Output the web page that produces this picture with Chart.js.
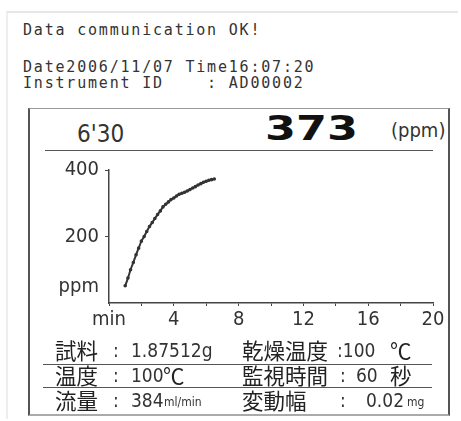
<!DOCTYPE html>
<html>
<head>
<meta charset="utf-8">
<script src="https://cdn.jsdelivr.net/npm/chart.js@4/dist/chart.umd.min.js"></script>
<style>
  body { margin: 0; background: #fff; width: 461px; height: 421px; overflow: hidden; position: relative; color: #222; }
  div, span { position: absolute; white-space: pre; }
  .frame { left: 6px; top: 11px; width: 450px; height: 406px; border-top: 2px solid #e6e6e6; border-left: 2px solid #eee; }
  .mono { left: 23px; font-family: "DejaVu Sans Mono", monospace; font-size: 15px; line-height: 15px; letter-spacing: 1.8px; color: #333; }
  .box { left: 28px; top: 108px; width: 418px; height: 305px; border: 2px solid #555; border-top: 1.5px solid #999; border-bottom: 2px solid #aaa; }
  .hd { font-family: "DejaVu Sans Condensed", sans-serif; color: #333; }
  .hr { height: 0; border-top: 1.5px solid #555; }
  .cjk { font-family: "Noto Sans CJK JP", sans-serif; font-size: 21.5px; line-height: 22px; color: #222; }
  .lat { font-family: "DejaVu Sans Condensed", sans-serif; font-size: 19px; line-height: 22px; color: #333; }
  .sm { font-family: "DejaVu Sans Condensed", sans-serif; font-size: 12px; line-height: 22px; color: #333; }
  #wrap { left: 30px; top: 150px; width: 420px; height: 185px; }
</style>
</head>
<body>
<div class="frame"></div>
<div class="mono" style="top:23px">Data communication OK!</div>
<div class="mono" style="top:60px">Date2006/11/07 Time16:07:20</div>
<div class="mono" style="top:76px">Instrument ID    : AD00002</div>
<div class="box"></div>
<div class="hd" style="left:77px; top:122px; font-size:24px; line-height:24px;">6'30</div>
<div class="hd" style="left:265px; top:111px; font-size:34px; line-height:34px; font-weight:bold; font-family:'DejaVu Sans', sans-serif; color:#111; transform:scaleX(1.31); transform-origin:left top;">373</div>
<div class="hd" style="left:391px; top:120px; font-size:20px; line-height:20px;">(ppm)</div>
<div class="hr" style="left:45px; top:150px; width:388px;"></div>
<div id="wrap"><canvas id="myChart"></canvas></div>

<span class="cjk" style="left:55px; top:339px">試料</span>
<span class="lat" style="left:113px; top:339px">:</span>
<span class="lat" style="left:131px; top:339px">1.87512g</span>
<span class="cjk" style="left:242px; top:339px">乾燥温度</span>
<span class="lat" style="left:337px; top:339px">:100</span>
<span class="cjk" style="left:390px; top:339px">℃</span>
<div class="hr" style="left:43px; top:364px; width:389px;"></div>

<span class="cjk" style="left:55px; top:364px">温度</span>
<span class="lat" style="left:113px; top:364px">:</span>
<span class="lat" style="left:131px; top:364px">100</span>
<span class="cjk" style="left:163px; top:364px">℃</span>
<span class="cjk" style="left:242px; top:364px">監視時間</span>
<span class="lat" style="left:340px; top:364px">:</span>
<span class="lat" style="left:356px; top:364px">60</span>
<span class="cjk" style="left:390px; top:364px">秒</span>
<div class="hr" style="left:43px; top:387px; width:389px;"></div>

<span class="cjk" style="left:55px; top:389px">流量</span>
<span class="lat" style="left:113px; top:389px">:</span>
<span class="lat" style="left:131px; top:389px">384</span>
<span class="sm" style="left:164px; top:391px">ml/min</span>
<span class="cjk" style="left:242px; top:389px">変動幅</span>
<span class="lat" style="left:340px; top:389px">:</span>
<span class="lat" style="left:366px; top:389px">0.02</span>
<span class="sm" style="left:407px; top:391px">mg</span>
<script>
// elapsed time (min) and concentration (ppm)
const minutes = [1.0, 1.17, 1.33, 1.5, 1.67, 1.83, 2.0, 2.17, 2.33, 2.5, 2.67, 2.83, 3.0, 3.17, 3.33, 3.5, 3.67,
    3.83, 4.0, 4.17, 4.33, 4.5, 4.67, 4.83, 5.0, 5.17, 5.33, 5.5, 5.67, 5.83, 6.0, 6.17, 6.33, 6.5];
const ppm = [52, 75, 100, 122, 145, 165, 186, 200, 215, 230, 242, 254, 266, 277, 289, 297, 304,
    311, 316, 322, 327, 330, 333, 337, 341, 346, 350, 355, 359, 363, 366, 369, 371, 373];
const yTicks = [50, 200, 400];
const yTickLabels = ['ppm', '200', '400'];

const points = minutes.map((m, i) => ({ x: m, y: ppm[i] }));

const tickFont = { family: 'DejaVu Sans Condensed', size: 20 };

const config = {
    type: 'scatter',
    data: {
        datasets: [{
            data: points,
            showLine: true,
            borderColor: '#333',
            backgroundColor: '#333',
            borderWidth: 2,
            pointRadius: 0.8,
            tension: 0.2
        }]
    },
    options: {
        responsive: true,
        maintainAspectRatio: false,
        animation: false,
        layout: { padding: { left: 0, right: 17, top: 20, bottom: 0 } },
        plugins: { legend: { display: false }, tooltip: { enabled: false } },
        scales: {
            x: {
                type: 'linear',
                min: 0,
                max: 20,
                afterFit: s => { s.height = 32; },
                border: { color: '#444', width: 1.5 },
                grid: { drawOnChartArea: false, tickLength: 3, color: '#444' },
                ticks: {
                    stepSize: 2,
                    color: '#333',
                    font: tickFont,
                    maxRotation: 0,
                    autoSkip: false,
                    padding: 2,
                    callback: v => v === 0 ? 'min' : (v % 4 === 0 ? String(v) : '')
                }
            },
            y: {
                min: 0,
                max: 400,
                afterFit: s => { s.width = 79; },
                afterBuildTicks: s => { s.ticks = yTicks.map(v => ({ value: v })); },
                border: { color: '#444', width: 1.5 },
                grid: {
                    drawOnChartArea: false,
                    tickLength: 4,
                    color: ctx => ctx.tick && ctx.tick.value === 50 ? 'rgba(0,0,0,0)' : '#444'
                },
                ticks: {
                    color: '#333',
                    font: tickFont,
                    padding: 6,
                    callback: (v) => yTickLabels[yTicks.indexOf(v)]
                }
            }
        }
    }
};

const myChart = new Chart(document.getElementById('myChart'), config);
</script>
</body>
</html>
